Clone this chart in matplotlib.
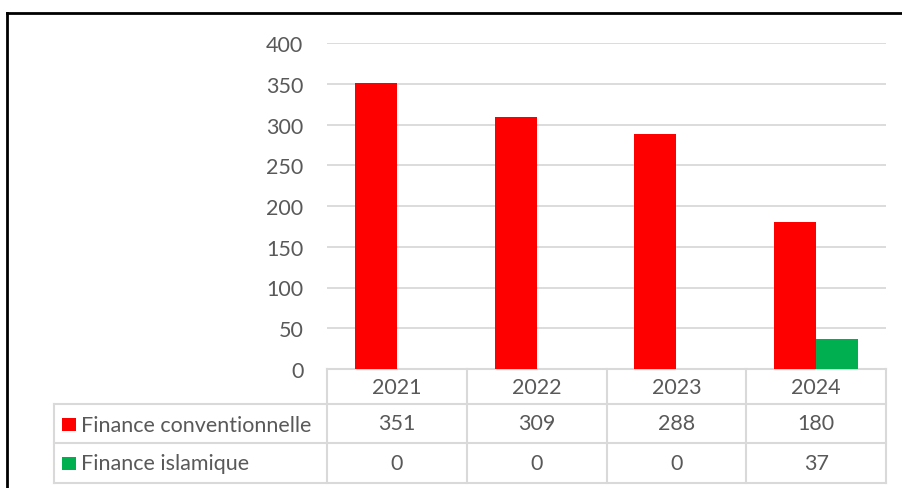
import matplotlib.pyplot as plt
from matplotlib.transforms import blended_transform_factory
from matplotlib.patches import Rectangle
from matplotlib.lines import Line2D
import numpy as np

years = ['2021', '2022', '2023', '2024']
conventionnelle = [351, 309, 288, 180]
islamique = [0, 0, 0, 37]
series_names = ['Finance conventionnelle', 'Finance islamique']
colors = ['#FF0000', '#00B050']

W, H = 903, 489
txt_color = '#595959'
grid_color = '#D9D9D9'
plt.rcParams['font.family'] = ['Lato', 'DejaVu Sans']

fig = plt.figure(figsize=(W / 100, H / 100), dpi=100)
# plot area in pixels: x 327..886, y 44..370
ax = fig.add_axes([327 / W, 1 - 370 / H, 559 / W, 326 / H])

x = np.arange(len(years))
bw = 0.30
ax.bar(x - bw / 2, conventionnelle, bw, color=colors[0], zorder=3)
ax.bar(x + bw / 2, islamique, bw, color=colors[1], zorder=3)

ax.set_xlim(-0.5, 3.5)
ax.set_ylim(0, 400)
ax.set_yticks(range(0, 401, 50))
ax.set_xticks([])
ax.yaxis.grid(True, color=grid_color, linewidth=1.3, zorder=0)
for s in ax.spines.values():
    s.set_visible(False)
fs = 15.5
ax.tick_params(axis='y', length=0, pad=17, labelsize=fs, labelcolor=txt_color)

# data table under the plot
tr = blended_transform_factory(ax.transData, ax.transAxes)
px = 1 / 326.0
rows_y = [0, -35 * px, -74 * px, -114 * px]
left = -0.5 - (327 - 54) / 139.75
lk = dict(color=grid_color, linewidth=1.5, transform=tr, clip_on=False)

ax.add_line(Line2D([-0.5, 3.5], [rows_y[0], rows_y[0]], **lk))
for yy in rows_y[1:]:
    ax.add_line(Line2D([left, 3.5], [yy, yy], **lk))
for xx in [-0.5, 0.5, 1.5, 2.5, 3.5]:
    ax.add_line(Line2D([xx, xx], [rows_y[0], rows_y[3]], **lk))
ax.add_line(Line2D([left, left], [rows_y[1], rows_y[3]], **lk))

for i, yr in enumerate(years):
    ax.text(i, (rows_y[0] + rows_y[1]) / 2, yr, ha='center', va='center',
            fontsize=fs, color=txt_color, transform=tr)

for r, (name, vals, c) in enumerate(zip(series_names, [conventionnelle, islamique], colors)):
    yc = (rows_y[r + 1] + rows_y[r + 2]) / 2
    for i, v in enumerate(vals):
        ax.text(i, yc, str(v), ha='center', va='center',
                fontsize=fs, color=txt_color, transform=tr)
    # legend key
    yc_px = 1 - [425.5, 464.5][r] / H
    fig.patches.append(Rectangle((62 / W, yc_px - 6.5 / H), 14 / W, 13 / H,
                                 facecolor=c, edgecolor='none',
                                 transform=fig.transFigure))
    fig.text(81 / W, yc_px, name, ha='left', va='center',
             fontsize=fs, color=txt_color)

# outer frame (top and left visible)
fig.add_artist(Line2D([7 / W, 1.0], [1 - 13.5 / H, 1 - 13.5 / H],
                      color='black', linewidth=2, transform=fig.transFigure))
fig.add_artist(Line2D([7 / W, 7 / W], [0, 1 - 13.5 / H],
                      color='black', linewidth=2, transform=fig.transFigure))

fig.savefig('out.png', dpi=100)
